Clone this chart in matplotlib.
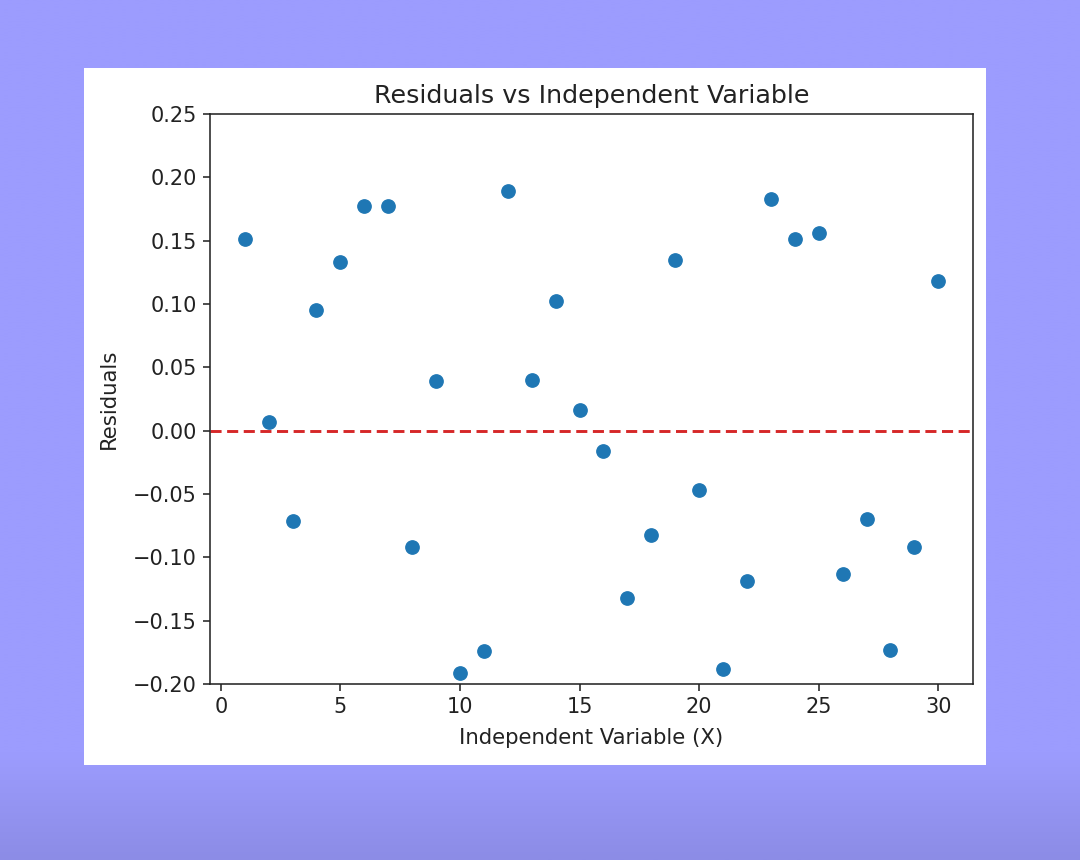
import numpy as np
import matplotlib
matplotlib.use("Agg")
import matplotlib.pyplot as plt
from matplotlib.patches import Rectangle

x_values = list(range(1, 31))
residuals = [0.151, 0.007, -0.071, 0.095, 0.133, 0.177, 0.177, -0.092, 0.039, -0.191,
             -0.174, 0.189, 0.040, 0.102, 0.016, -0.016, -0.132, -0.082, 0.135, -0.047,
             -0.188, -0.119, 0.183, 0.151, 0.156, -0.113, -0.070, -0.173, -0.092, 0.118]
x_ticks = [0, 5, 10, 15, 20, 25, 30]
y_ticks = [-0.20, -0.15, -0.10, -0.05, 0.00, 0.05, 0.10, 0.15, 0.20, 0.25]

W, H = 1080, 860
fig = plt.figure(figsize=(W / 100, H / 100), dpi=100)

# background gradient
bg = fig.add_axes([0, 0, 1, 1], zorder=-10)
bg.set_axis_off()
ys = np.linspace(0, 1, 300)
top = np.array([0x9c, 0x9c, 0xfe]) / 255
bot = np.array([0x8c, 0x8c, 0xe6]) / 255
t = np.clip((ys * H - 755) / 105, 0, 1)
grad = top[None, :] * (1 - t[:, None]) + bot[None, :] * t[:, None]
bg.imshow(grad[:, None, :], aspect="auto", extent=[0, 1, 0, 1], origin="upper",
          interpolation="bilinear")
bg.set_xlim(0, 1)
bg.set_ylim(0, 1)
bg.add_patch(Rectangle((84 / W, 1 - 765 / H), (986 - 84) / W, (765 - 68) / H,
                       facecolor="white", edgecolor="none", transform=bg.transAxes))

ax = fig.add_axes([210 / W, 1 - 684 / H, (973 - 210) / W, (684 - 114) / H])
ax.scatter(x_values, residuals, s=92, color="#1f77b4", zorder=3)
ax.axhline(0, color="#d62728", linestyle="--", linewidth=2.1, dashes=(3.8, 1.9))
ax.set_ylim(-0.20, 0.25)
ax.set_xlim(-0.45, 31.45)
ax.set_xticks(x_ticks)
ax.set_yticks(y_ticks)
ax.set_yticklabels([f"{v:.2f}".replace("-", "\u2212") for v in y_ticks])
for s in ax.spines.values():
    s.set_linewidth(1.13)
    s.set_color("#222222")
ax.tick_params(labelsize=15, width=1.13, length=5, pad=4.5, color="#222222",
               labelcolor="#222222")
ax.set_title("Residuals vs Independent Variable", fontsize=18.3, color="#222222", pad=8)
ax.set_xlabel("Independent Variable (X)", fontsize=15.3, color="#222222", labelpad=8)
ax.set_ylabel("Residuals", fontsize=15.3, color="#222222", labelpad=10)

fig.savefig("out.png", dpi=100)
